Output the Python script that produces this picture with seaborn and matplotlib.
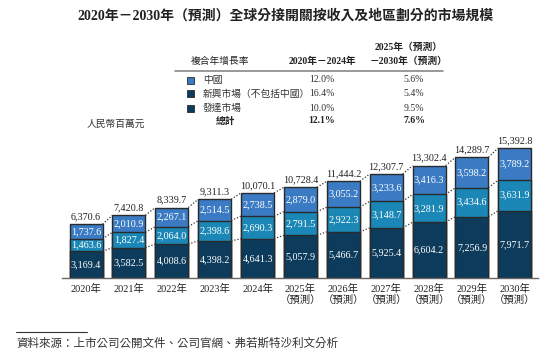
import matplotlib.pyplot as plt
import numpy as np
import pandas as pd
import seaborn as sns

sns.set_style('white')
FONT = ['Liberation Serif', 'Noto Sans CJK TC', 'DejaVu Sans']
plt.rcParams['font.family'] = FONT

# Data (RMB million)
years = ['2020年', '2021年', '2022年', '2023年', '2024年',
         '2025年\n（預測）', '2026年\n（預測）', '2027年\n（預測）',
         '2028年\n（預測）', '2029年\n（預測）', '2030年\n（預測）']
developed = [3169.4, 3582.5, 4008.6, 4398.2, 4641.3, 5057.9, 5466.7, 5925.4, 6604.2, 7256.9, 7971.7]
emerging = [1463.6, 1827.4, 2064.0, 2398.6, 2690.3, 2791.5, 2922.3, 3148.7, 3281.9, 3434.6, 3631.9]
china = [1737.6, 2010.9, 2267.1, 2514.5, 2738.5, 2879.0, 3055.2, 3233.6, 3416.3, 3598.2, 3789.2]
totals = [6370.6, 7420.8, 8339.7, 9311.3, 10070.1, 10728.4, 11444.2, 12307.7, 13302.4, 14289.7, 15392.8]

series_names = ['中國', '新興市場（不包括中國）', '發達市場']
cagr_2020_2024 = ['12.0%', '16.4%', '10.0%']
cagr_2025_2030 = ['5.6%', '5.4%', '9.5%']
cagr_total = ['12.1%', '7.6%']

c_dev = '#0c3b5b'
c_emg = '#1a87b6'
c_chn = '#3b7bc4'
edge = '#2a2a2a'

df = pd.DataFrame({'year': years, 'developed': developed, 'emerging': emerging,
                   'china': china, 'total': totals})
df['lvl1'] = df['developed']
df['lvl2'] = df['developed'] + df['emerging']
df['lvl3'] = df['lvl2'] + df['china']

fig = plt.figure(figsize=(5.49, 3.53), dpi=100)
ax = fig.add_axes([0.113, 0.2125, 0.867, 0.407])

w = 0.77
for col, c in [('lvl3', c_chn), ('lvl2', c_emg), ('lvl1', c_dev)]:
    sns.barplot(data=df, x='year', y=col, color=c, width=w, saturation=1,
                edgecolor=edge, linewidth=1.0, ax=ax)

ax.set_xlim(-0.56, 10.54)
ax.set_ylim(0, 17000)
ax.set_xlabel('')
ax.set_ylabel('')
ax.set_yticks([])
for s in ['top', 'right', 'left']:
    ax.spines[s].set_visible(False)
ax.spines['bottom'].set_color('#666666')
ax.spines['bottom'].set_linewidth(1.0)
ax.tick_params(axis='x', length=0, pad=4)
ax.set_xticks(range(len(years)))
ax.set_xticklabels(years, fontsize=7.5, color='#222222', linespacing=1.1, family=FONT)

# dotted connectors between bars
for i in range(len(years) - 1):
    for col in ['lvl1', 'lvl2', 'lvl3']:
        ax.plot([i + w / 2, i + 1 - w / 2], [df[col][i], df[col][i + 1]],
                linestyle=(0, (1, 1.5)), color='#333333', linewidth=0.9)

# segment labels
for i in range(len(years)):
    ax.text(i, df['developed'][i] / 2, f"{df['developed'][i]:,.1f}", ha='center', va='center',
            color='white', fontsize=7.3, family=FONT)
    ax.text(i, df['lvl1'][i] + df['emerging'][i] / 2, f"{df['emerging'][i]:,.1f}", ha='center',
            va='center', color='white', fontsize=7.3, family=FONT)
    ax.text(i, df['lvl2'][i] + df['china'][i] / 2, f"{df['china'][i]:,.1f}", ha='center',
            va='center', color='white', fontsize=7.3, family=FONT)
    ax.text(i, df['total'][i] + 350, f"{df['total'][i]:,.1f}", ha='center', va='bottom',
            color='#222222', fontsize=7.3, family=FONT)

# title
fig.text(0.52, 0.955, '2020年－2030年（預測）全球分接開關按收入及地區劃分的市場規模',
         ha='center', va='center', fontsize=10, fontweight='bold', color='#222222', family=FONT)

# CAGR table
def fx(px):
    return px / 549

def fy(py):
    return 1 - py / 353

fig.text(fx(220), fy(61), '複合年增長率', ha='center', va='center', fontsize=7, color='#222222', family=FONT)
fig.text(fx(322), fy(61), '2020年－2024年', ha='center', va='center', fontsize=7,
         fontweight='bold', color='#222222', family=FONT)
fig.text(fx(409), fy(47), '2025年（預測）', ha='center', va='center', fontsize=7,
         fontweight='bold', color='#222222', family=FONT)
fig.text(fx(409), fy(61), '－2030年（預測）', ha='center', va='center', fontsize=7,
         fontweight='bold', color='#222222', family=FONT)
fig.add_artist(plt.Line2D([fx(175), fx(443)], [fy(71), fy(71)], color='#888888', linewidth=1.2))

row_y = [80, 94, 108]
sq_colors = [c_chn, c_dev, c_dev]
for k in range(3):
    y = row_y[k]
    fig.add_artist(plt.Rectangle((fx(187), fy(y + 3.5)), fx(7), 7 / 353, facecolor=sq_colors[k],
                                 edgecolor=edge, linewidth=0.6))
    fig.text(fx(203), fy(y), series_names[k], ha='left', va='center', fontsize=7,
             color='#333333', family=FONT)
    fig.text(fx(322), fy(y), cagr_2020_2024[k], ha='center', va='center', fontsize=7,
             color='#333333', family=FONT)
    fig.text(fx(414), fy(y), cagr_2025_2030[k], ha='center', va='center', fontsize=7,
             color='#333333', family=FONT)
fig.text(fx(225), fy(121), '總計', ha='center', va='center', fontsize=7, fontweight='bold',
         color='#222222', family=FONT)
fig.text(fx(322), fy(121), cagr_total[0], ha='center', va='center', fontsize=7, fontweight='bold',
         color='#222222', family=FONT)
fig.text(fx(414), fy(121), cagr_total[1], ha='center', va='center', fontsize=7, fontweight='bold',
         color='#222222', family=FONT)

fig.text(fx(87), fy(124), '人民幣百萬元', ha='left', va='center', fontsize=7, color='#333333', family=FONT)

# source
fig.add_artist(plt.Line2D([fx(16), fx(87)], [fy(332), fy(332)], color='#333333', linewidth=0.8))
fig.text(fx(16), fy(344), '資料來源：上市公司公開文件、公司官網、弗若斯特沙利文分析', ha='left',
         va='center', fontsize=8.3, style='italic', color='#333333', family=FONT)

plt.savefig('out.png', dpi=100)
